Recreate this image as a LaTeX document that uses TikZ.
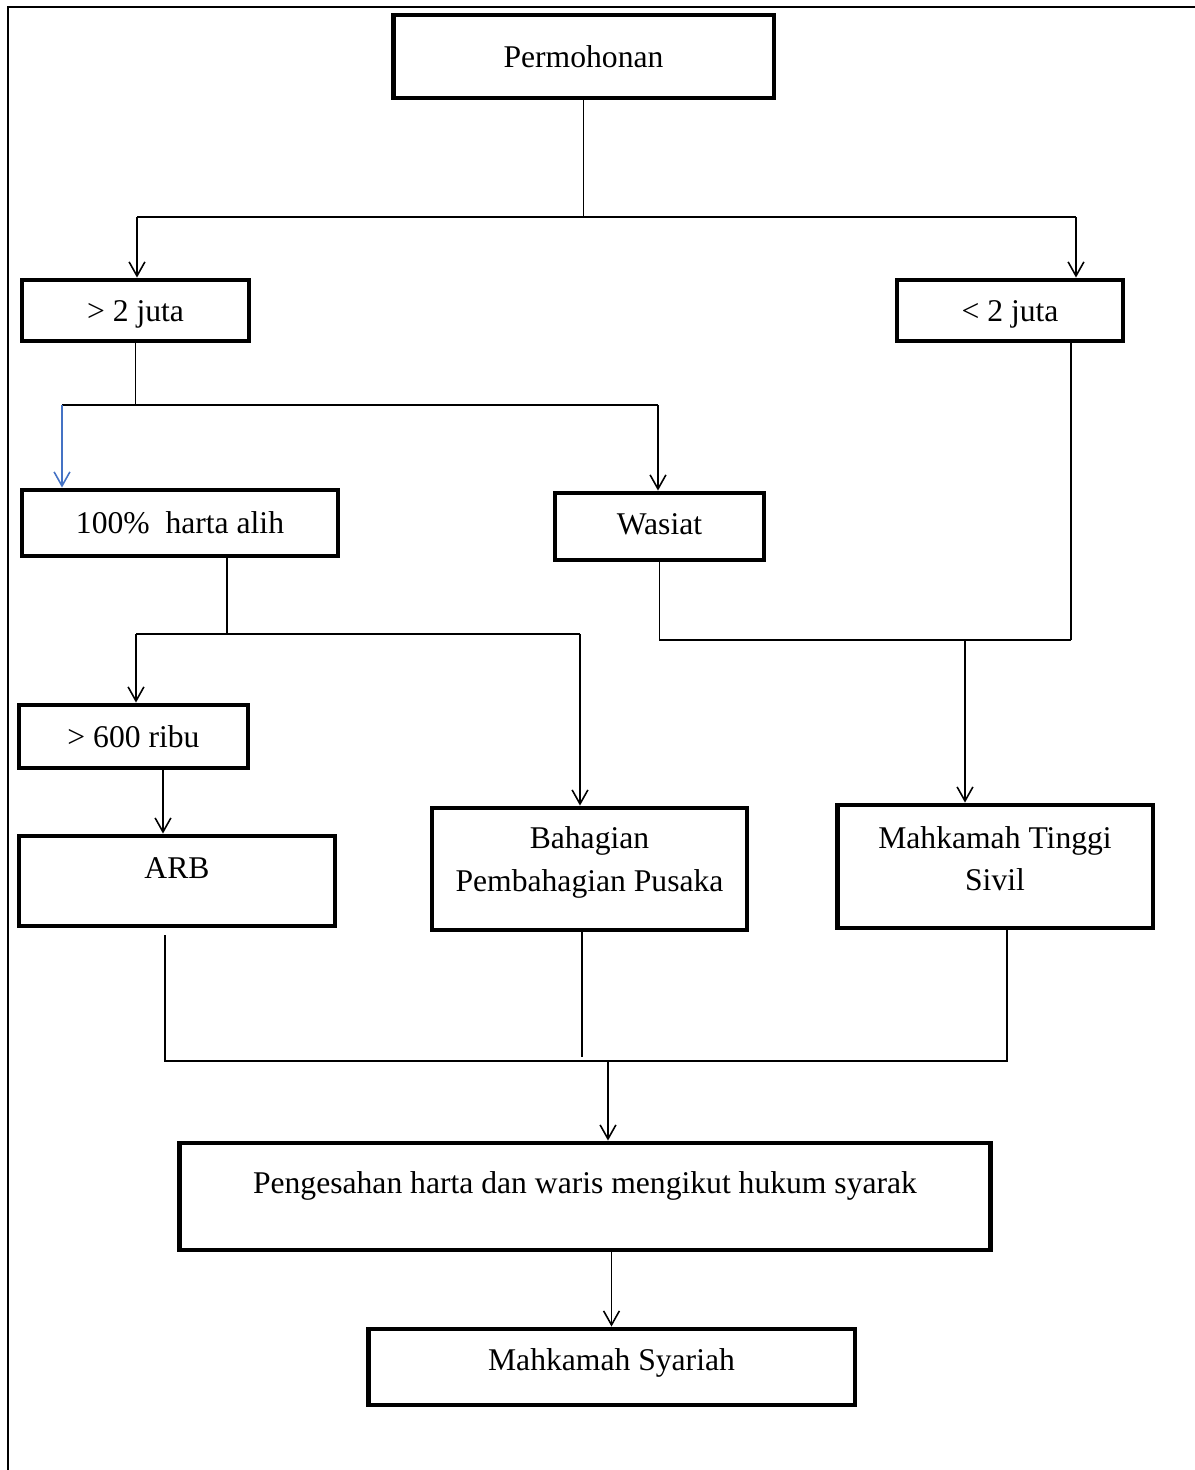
\documentclass[tikz,border=0pt]{standalone}
\usepackage{fontspec}
\setmainfont{Liberation Serif}
\usetikzlibrary{arrows.meta}
\definecolor{wordblue}{RGB}{68,114,196}
\begin{document}
\begin{tikzpicture}[x=0.02cm,y=-0.02cm]
        \tikzstyle{stepbox}=[draw=black,line width=2.8pt,font=\fontsize{18}{24}\selectfont,align=center,inner sep=0pt]
        \tikzstyle{edge}=[draw=black,line width=0.9pt]
        \tikzstyle{arrow}=[edge,-{Straight Barb[length=8pt,width=9pt]}]
        \tikzstyle{frame}=[draw=black,line width=0.7pt]
        \useasboundingbox (0,0) rectangle (1195,1470);
        \path[frame] (8,1470) -- (8,7) -- (1195,7);

        \node [stepbox,minimum width=7.62cm,minimum height=1.66cm] (perm) at (583.5,56.5) {Permohonan};
        \node [stepbox,minimum width=4.54cm,minimum height=1.22cm,text height=16pt,text depth=4pt] (gt2) at (135.5,310.5) {> 2 juta};
        \node [stepbox,minimum width=4.52cm,minimum height=1.22cm,text height=16pt,text depth=4pt] (lt2) at (1010,310.5) {< 2 juta};
        \node [stepbox,minimum width=6.32cm,minimum height=1.32cm] (harta) at (180,523) {100\%\ \ harta alih};
        \node [stepbox,minimum width=4.18cm,minimum height=1.34cm,text height=12pt,text depth=3pt] (wasiat) at (659.5,526.5) {Wasiat};
        \node [stepbox,minimum width=4.58cm,minimum height=1.26cm] (gt600) at (133.5,736.5) {> 600 ribu};
        \node [stepbox,minimum width=6.32cm,minimum height=1.8cm,text height=12pt,text depth=15pt] (arb) at (177,881) {ARB};
        \node [stepbox,minimum width=6.3cm,minimum height=2.44cm,text height=37pt,text depth=11.9pt] (bahagian) at (589.5,869) {Bahagian\\Pembahagian Pusaka};
        \node [stepbox,minimum width=6.32cm,minimum height=2.46cm,text height=37pt,text depth=9.6pt] (tinggi) at (995,866.5) {Mahkamah Tinggi\\Sivil};
        \node [stepbox,minimum width=16.24cm,minimum height=2.14cm,text height=12pt,text depth=15pt] (sah) at (585,1196.5) {Pengesahan harta dan waris mengikut hukum syarak};
        \node [stepbox,minimum width=9.74cm,minimum height=1.52cm,text height=12pt,text depth=8.5pt] (syariah) at (611.5,1367) {Mahkamah Syariah};

        % permohonan
        \coordinate (j1l) at (137,217);
        \coordinate (j1r) at (1076,217);
        \path[edge] (perm) -- (perm |- j1l);
        \path[edge] (j1l) -- (j1r);
        \path[arrow] (j1l) -- (j1l |- gt2.north);
        \path[arrow] (j1r) -- (j1r |- lt2.north);

        % > 2 juta
        \coordinate (j2l) at (62,405);
        \coordinate (j2r) at (658,405);
        \path[edge] (gt2) -- (gt2 |- j2l);
        \path[edge] (j2l) -- (j2r);
        \path[arrow,draw=wordblue] (j2l) -- (j2l |- harta.north);
        \path[arrow] (j2r) -- (j2r |- wasiat.north);

        % 100% harta alih
        \coordinate (j3) at (227,634);
        \coordinate (j3l) at (136,634);
        \coordinate (j3r) at (580,634);
        \coordinate (x600) at (163,0);
        \path[edge] (harta.south -| j3) -- (j3);
        \path[edge] (j3l) -- (j3r);
        \path[arrow] (j3l) -- (j3l |- gt600.north);
        \path[arrow] (j3r) -- (j3r |- bahagian.north);
        \path[arrow] (gt600.south -| x600) -- (arb.north -| x600);

        % wasiat, < 2 juta
        \coordinate (j4r) at (1071,640);
        \coordinate (j4) at (965,640);
        \path[edge] (wasiat) |- (j4r);
        \path[edge] (lt2.south -| j4r) -- (j4r);
        \path[arrow] (j4) -- (j4 |- tinggi.north);

        % pengesahan
        \coordinate (j5l) at (165,1061);
        \coordinate (j5r) at (1007,1061);
        \coordinate (j5) at (608,1061);
        \coordinate (xb) at (582,1057);
        \path[edge,shorten <=4pt] (arb.south -| j5l) -- (j5l) -- (j5r) -- (tinggi.south -| j5r);
        \path[edge] (bahagian.south -| xb) -- (xb);
        \path[arrow] (j5) -- (j5 |- sah.north);
        \path[arrow] (sah.south -| syariah.north) -- (syariah.north);
\end{tikzpicture}
\end{document}
